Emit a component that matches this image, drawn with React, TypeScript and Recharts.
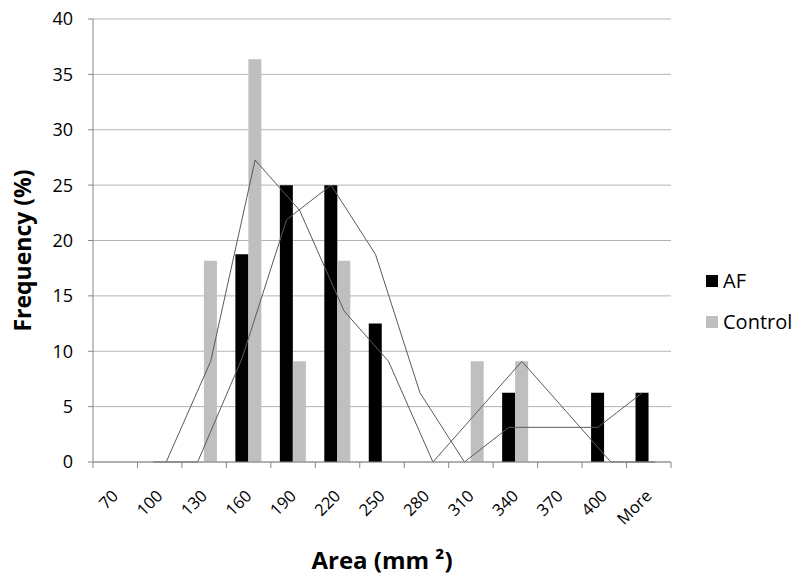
import { Bar, CartesianGrid, ComposedChart, Label, Legend, Line, XAxis, YAxis } from 'recharts';

const bins = ['70', '100', '130', '160', '190', '220', '250', '280', '310', '340', '370', '400', 'More'];
const afPct = [0, 0, 0, 18.75, 25, 25, 12.5, 0, 0, 6.25, 0, 6.25, 6.25];
const controlPct = [0, 0, 18.18, 36.36, 9.09, 18.18, 0, 0, 9.09, 9.09, 0, 0, 0];
// 2-period moving average trend lines
const afTrend = [null, 0, 0, 9.38, 21.88, 25, 18.75, 6.25, 0, 3.13, 3.13, 3.13, 6.25];
const controlTrend = [null, 0, 9.09, 27.27, 22.73, 13.64, 9.09, 0, 4.55, 9.09, 4.55, 0, 0];
const yTicks = [0, 5, 10, 15, 20, 25, 30, 35, 40];

const data = bins.map((bin, i) => ({
  bin,
  af: afPct[i],
  control: controlPct[i],
  afTrend: afTrend[i],
  controlTrend: controlTrend[i],
}));

const W = 799;
const H = 582;
const LEFT = 93;
const RIGHT = 128;
const BAR = 13;
const FONT = '"Open Sans", sans-serif';
const AXIS = '#868686';
const bandW = (W - LEFT - RIGHT) / bins.length;

function BinTick(props: any) {
  const { x, y, payload, index } = props;
  const lx = x + 4;
  const ly = y + 35;
  return (
    <g>
      <line x1={x - bandW / 2} y1={y} x2={x - bandW / 2} y2={y + 6} stroke={AXIS} />
      {index === bins.length - 1 && (
        <line x1={x + bandW / 2} y1={y} x2={x + bandW / 2} y2={y + 6} stroke={AXIS} />
      )}
      <text
        x={lx}
        y={ly}
        transform={`rotate(-45, ${lx}, ${ly})`}
        textAnchor="end"
        fontSize={16.5}
        fontFamily={FONT}
        fill="#000"
      >
        {payload.value}
      </text>
    </g>
  );
}

function LegendBox() {
  const items = [
    { name: 'AF', color: '#000000' },
    { name: 'Control', color: '#bfbfbf' },
  ];
  return (
    <div style={{ fontFamily: FONT, fontSize: 20, color: '#000' }}>
      {items.map((it) => (
        <div key={it.name} style={{ display: 'flex', alignItems: 'center', height: 41 }}>
          <span style={{ width: 12, height: 12, background: it.color, marginRight: 5, display: 'inline-block' }} />
          <span>{it.name}</span>
        </div>
      ))}
    </div>
  );
}

export default function App() {
  return (
    <div style={{ position: 'absolute', left: 0, top: 0, background: '#fff' }}>
      <ComposedChart
        width={W}
        height={H}
        data={data}
        margin={{ top: 19, right: RIGHT, bottom: 0, left: 0 }}
        barGap={0}
      >
        <CartesianGrid vertical={false} stroke="#b4b4b4" />
        <XAxis
          dataKey="bin"
          height={120}
          tickLine={false}
          tickSize={0}
          tickMargin={0}
          axisLine={{ stroke: AXIS }}
          tick={<BinTick />}
          interval={0}
        >
          <Label
            value="Area (mm ²)"
            position="insideBottom"
            offset={13}
            style={{ fontFamily: FONT, fontSize: 24, fontWeight: 700, fill: '#000' }}
          />
        </XAxis>
        <XAxis xAxisId="afShift" dataKey="bin" hide padding={{ left: -BAR / 2, right: BAR / 2 }} />
        <XAxis xAxisId="ctlShift" dataKey="bin" hide padding={{ left: BAR / 2, right: -BAR / 2 }} />
        <YAxis
          width={LEFT}
          domain={[0, 40]}
          ticks={yTicks}
          interval={0}
          tickSize={5}
          tickMargin={15}
          axisLine={{ stroke: AXIS }}
          tickLine={{ stroke: AXIS }}
          tick={{ fill: '#000', fontSize: 18, fontFamily: FONT }}
        >
          <Label
            content={(p: any) => {
              const vb = p.viewBox;
              const cx = 31;
              const cy = vb.y + vb.height / 2 + 10;
              return (
                <text
                  x={cx}
                  y={cy}
                  transform={`rotate(-90, ${cx}, ${cy})`}
                  textAnchor="middle"
                  fontSize={23}
                  fontWeight={700}
                  fontFamily={FONT}
                  fill="#000"
                >
                  Frequency (%)
                </text>
              );
            }}
          />
        </YAxis>
        <Bar dataKey="af" name="AF" fill="#000000" barSize={BAR} isAnimationActive={false} />
        <Bar dataKey="control" name="Control" fill="#bfbfbf" barSize={BAR} isAnimationActive={false} />
        <Line
          xAxisId="afShift"
          dataKey="afTrend"
          stroke="#5a5a5a"
          strokeWidth={1}
          dot={false}
          activeDot={false}
          legendType="none"
          isAnimationActive={false}
        />
        <Line
          xAxisId="ctlShift"
          dataKey="controlTrend"
          stroke="#5a5a5a"
          strokeWidth={1}
          dot={false}
          activeDot={false}
          legendType="none"
          isAnimationActive={false}
        />
        <Legend
          layout="vertical"
          align="center"
          verticalAlign="middle"
          content={<LegendBox />}
          wrapperStyle={{ left: 706, top: 260, width: 100 }}
        />
      </ComposedChart>
    </div>
  );
}
